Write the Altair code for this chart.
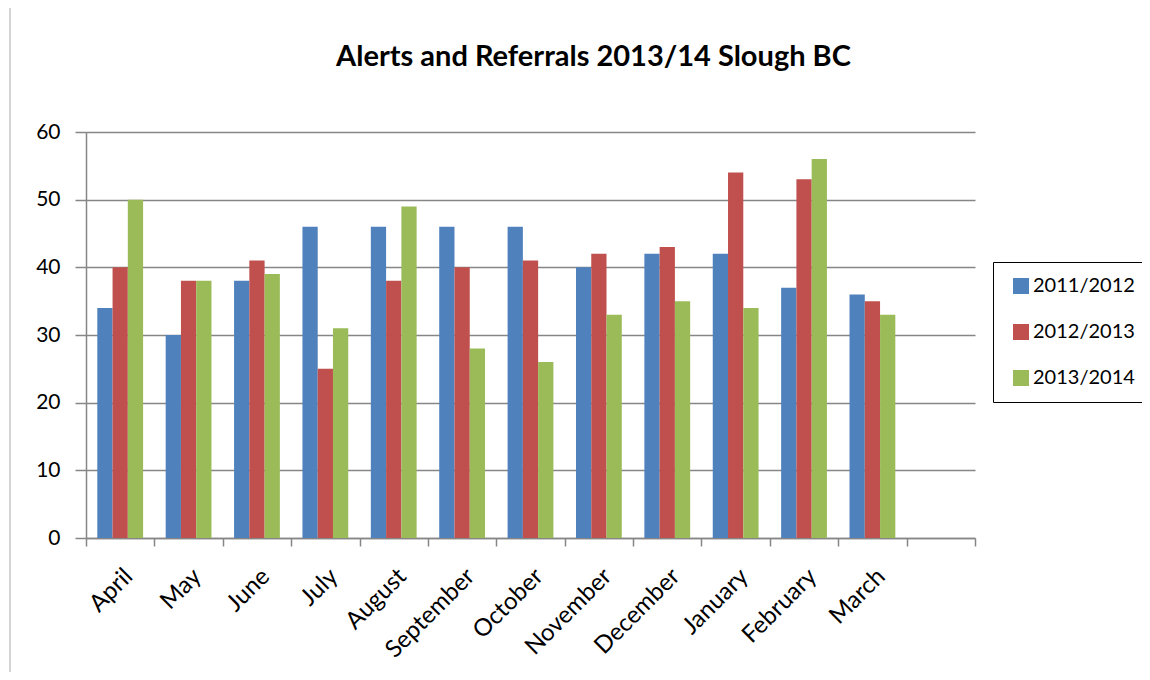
import altair as alt
import pandas as pd

months = ["April", "May", "June", "July", "August", "September", "October",
          "November", "December", "January", "February", "March"]
series = ["2011/2012", "2012/2013", "2013/2014"]
v2011 = [34, 30, 38, 46, 46, 46, 46, 40, 42, 42, 37, 36]
v2012 = [40, 38, 41, 25, 38, 40, 41, 42, 43, 54, 53, 35]
v2013 = [50, 38, 39, 31, 49, 28, 26, 33, 35, 34, 56, 33]
colors = ["#4F81BD", "#C0504D", "#9BBB59"]

rows = []
for s, vals in zip(series, [v2011, v2012, v2013]):
    for m, v in zip(months, vals):
        rows.append({"month": m, "series": s, "value": v})
df = pd.DataFrame(rows)

FONT = "Lato"
GRID = "#868686"

bars = alt.Chart(df).mark_bar().encode(
    x=alt.X("month:N",
            scale=alt.Scale(domain=months + [" "], paddingInner=0, paddingOuter=0),
            axis=alt.Axis(title=None, labelAngle=-45, labelAlign="right", labelBaseline="top",
                          tickBand="extent", tickSize=8, tickColor=GRID, tickWidth=1.5,
                          domainColor=GRID, domainWidth=1.5, labelFontSize=24,
                          labelFont=FONT, labelColor="black", labelPadding=18, grid=False)),
    xOffset=alt.XOffset("series:N", sort=series,
                        scale=alt.Scale(paddingInner=0, paddingOuter=0.74)),
    y=alt.Y("value:Q",
            scale=alt.Scale(domain=[0, 60], nice=False),
            axis=alt.Axis(title=None, values=[0, 10, 20, 30, 40, 50, 60], grid=True,
                          gridColor=GRID, gridWidth=1.5, domainColor=GRID, domainWidth=1.5,
                          tickColor=GRID, tickSize=11, tickWidth=1.5, labelFontSize=21,
                          labelFont=FONT, labelColor="black", labelPadding=15)),
    color=alt.Color("series:N", sort=series,
                    scale=alt.Scale(domain=series, range=colors),
                    legend=alt.Legend(title=None, orient="none", legendX=907, legendY=130,
                                      strokeColor="black", fillColor="white",
                                      padding=14, rowPadding=26, symbolType="square",
                                      symbolSize=256, symbolStrokeWidth=0, symbolOffset=4,
                                      labelFontSize=20, labelFont=FONT, labelColor="black",
                                      labelOffset=2)),
)

border = alt.Chart(pd.DataFrame({"a": [0]})).mark_rule(color="#AAAAAA", strokeWidth=1).encode(
    x=alt.value(-76), y=alt.value(-124), y2=alt.value(540)
)

chart = alt.layer(border, bars).properties(
    width=889, height=406,
    title=alt.TitleParams("Alerts and Referrals 2013/14 Slough BC", fontSize=29,
                          font=FONT, fontWeight="bold", color="black",
                          anchor="middle", dx=63, offset=-64),
    autosize=alt.AutoSizeParams(type="none"),
    padding={"left": 78, "top": 124, "right": 167, "bottom": 134},
).configure_view(stroke=None)

chart.save("out.html", embed_options={"renderer": "svg", "actions": False})
